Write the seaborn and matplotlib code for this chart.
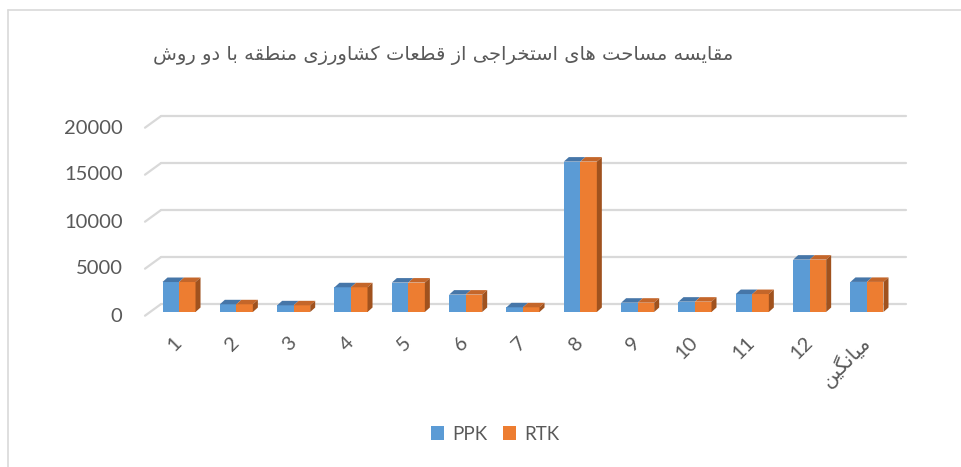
import pandas as pd
import matplotlib
matplotlib.use("Agg")
import matplotlib.pyplot as plt
import matplotlib.transforms as mtransforms
from matplotlib.patches import Polygon, Patch
from matplotlib.lines import Line2D
import seaborn as sns

categories = ['1', '2', '3', '4', '5', '6', '7', '8', '9', '10', '11', '12', 'میانگین']
ppk = [3190, 820, 710, 2630, 3130, 1850, 500, 16000, 990, 1100, 1910, 5570, 3200]
rtk = [3190, 820, 710, 2630, 3130, 1850, 500, 16000, 990, 1100, 1910, 5570, 3200]
yticks = [0, 5000, 10000, 15000, 20000]
title = 'مقایسه مساحت های استخراجی از قطعات کشاورزی منطقه با دو روش'

# matplotlib has no arabic shaping, so map letters to presentation forms
FORMS = {  # isolated, final, initial, medial
    'ا': ('\uFE8D', '\uFE8E', None, None),
    'ب': ('\uFE8F', '\uFE90', '\uFE91', '\uFE92'),
    'ت': ('\uFE95', '\uFE96', '\uFE97', '\uFE98'),
    'ج': ('\uFE9D', '\uFE9E', '\uFE9F', '\uFEA0'),
    'ح': ('\uFEA1', '\uFEA2', '\uFEA3', '\uFEA4'),
    'خ': ('\uFEA5', '\uFEA6', '\uFEA7', '\uFEA8'),
    'د': ('\uFEA9', '\uFEAA', None, None),
    'ر': ('\uFEAD', '\uFEAE', None, None),
    'ز': ('\uFEAF', '\uFEB0', None, None),
    'س': ('\uFEB1', '\uFEB2', '\uFEB3', '\uFEB4'),
    'ش': ('\uFEB5', '\uFEB6', '\uFEB7', '\uFEB8'),
    'ط': ('\uFEC1', '\uFEC2', '\uFEC3', '\uFEC4'),
    'ع': ('\uFEC9', '\uFECA', '\uFECB', '\uFECC'),
    'ق': ('\uFED5', '\uFED6', '\uFED7', '\uFED8'),
    'م': ('\uFEE1', '\uFEE2', '\uFEE3', '\uFEE4'),
    'ن': ('\uFEE5', '\uFEE6', '\uFEE7', '\uFEE8'),
    'ه': ('\uFEE9', '\uFEEA', '\uFEEB', '\uFEEC'),
    'و': ('\uFEED', '\uFEEE', None, None),
    'ی': ('\uFBFC', '\uFBFD', '\uFBFE', '\uFBFF'),
    'ک': ('\uFB8E', '\uFB8F', '\uFB90', '\uFB91'),
    'گ': ('\uFB92', '\uFB93', '\uFB94', '\uFB95'),
}


def shape_fa(text):
    if not any(ch in FORMS for ch in text):
        return text
    out = []
    for i, ch in enumerate(text):
        if ch not in FORMS:
            out.append(ch)
            continue
        prev = text[i - 1] if i > 0 else ''
        nxt = text[i + 1] if i + 1 < len(text) else ''
        iso, fin, ini, med = FORMS[ch]
        join_prev = prev in FORMS and FORMS[prev][2] is not None
        join_next = ini is not None and nxt in FORMS
        if join_prev and join_next:
            out.append(med)
        elif join_prev:
            out.append(fin)
        elif join_next:
            out.append(ini)
        else:
            out.append(iso)
    return ''.join(reversed(out))


df = pd.DataFrame({
    'cat': categories * 2,
    'value': ppk + rtk,
    'method': ['PPK'] * len(ppk) + ['RTK'] * len(rtk),
})

blue, orange = '#5B9BD5', '#ED7D31'
blue_top, orange_top, orange_side = '#4676A8', '#C4662A', '#A0521E'
grid_c = '#D9D9D9'
text_c = '#595959'

sns.set_style('white')
plt.rcParams['font.family'] = ['Lato', 'DejaVu Sans']

W, H = 961, 467
fig = plt.figure(figsize=(W / 100, H / 100), dpi=100)
ax_l, ax_r, ax_b, ax_t = 150.35, 895.65, 312, 124
ax = fig.add_axes([ax_l / W, 1 - ax_b / H, (ax_r - ax_l) / W, (ax_b - ax_t) / H])

sns.barplot(data=df, x='cat', y='value', hue='method', order=categories,
            palette=[blue, orange], saturation=1, width=0.576, ax=ax,
            legend=False, zorder=3, linewidth=0, edgecolor='none')

ax.set_xlim(-0.5, len(categories) - 0.5)
ax.set_ylim(0, 20000)
sx = (ax_r - ax_l) / len(categories)   # px per x unit
sy = (ax_b - ax_t) / 20000             # px per y unit

# 3d look: back wall gridlines with a slanted floor edge
for v in yticks:
    x0 = -0.5
    ax.add_line(Line2D([x0 - 5.35 / sx, x0 + 10.35 / sx], [v - 3.7 / sy, v + 7.7 / sy],
                       color=grid_c, lw=1.6, clip_on=False, zorder=1))
    ax.add_line(Line2D([x0 + 10.35 / sx, len(categories) - 0.5 + 10.35 / sx],
                       [v + 7.7 / sy, v + 7.7 / sy],
                       color=grid_c, lw=1.6, clip_on=False, zorder=1))

ddx, ddy = 5.0 / sx, 4.5 / sy
n = len(categories)
for i, bar in enumerate(ax.patches[:2 * n]):
    x0, x1 = bar.get_x(), bar.get_x() + bar.get_width()
    h = bar.get_height()
    is_rtk = i >= n
    top = blue_top if not is_rtk else orange_top
    ax.add_patch(Polygon([(x0, h), (x1, h), (x1 + ddx, h + ddy), (x0 + ddx, h + ddy)],
                         closed=True, fc=top, ec='none', zorder=3, clip_on=False))
    if is_rtk:
        ax.add_patch(Polygon([(x1, 0), (x1, h), (x1 + ddx, h + ddy), (x1 + ddx, ddy)],
                             closed=True, fc=orange_side, ec='none', zorder=3,
                             clip_on=False))

sns.despine(ax=ax, left=True, bottom=True)
ax.set_xlabel('')
ax.set_ylabel('')
ax.set_yticks(yticks)
ax.set_yticklabels([str(t) for t in yticks])
ax.set_xticks(range(n))
ax.set_xticklabels([shape_fa(c) for c in categories])
ax.tick_params(axis='y', length=0, pad=20, labelsize=14.5, labelcolor=text_c)
ax.tick_params(axis='x', length=0, pad=20, labelsize=14.5, labelcolor=text_c)
shift = mtransforms.ScaledTranslation(0, -2.5 / 100, fig.dpi_scale_trans)
for lab in ax.get_yticklabels():
    lab.set_transform(lab.get_transform() + shift)
for lab in ax.get_xticklabels():
    lab.set_rotation(45)
    lab.set_ha('right')
    lab.set_va('center')
    lab.set_rotation_mode('anchor')
    lab.set_family(['Lato', 'DejaVu Sans'])

fig.text(443 / W, 1 - 55 / H, shape_fa(title), ha='center', va='center',
         fontsize=14, color=text_c, family=['DejaVu Sans'])

handles = [Patch(fc=blue, ec='none', label='PPK'), Patch(fc=orange, ec='none', label='RTK')]
fig.legend(handles=handles, loc='center', bbox_to_anchor=(495 / W, 1 - 434 / H),
           ncol=2, frameon=False, fontsize=13.5, handlelength=0.72, handleheight=0.72,
           handletextpad=0.4, columnspacing=0.85, labelcolor=text_c)

# chart border, continues past the right and bottom edges
fig.add_artist(Line2D([8 / W, 1.0], [1 - 10 / H, 1 - 10 / H], color=grid_c, lw=1.2))
fig.add_artist(Line2D([8 / W, 8 / W], [0, 1 - 10 / H], color=grid_c, lw=1.2))

fig.savefig('out.png', dpi=100, facecolor='white')
